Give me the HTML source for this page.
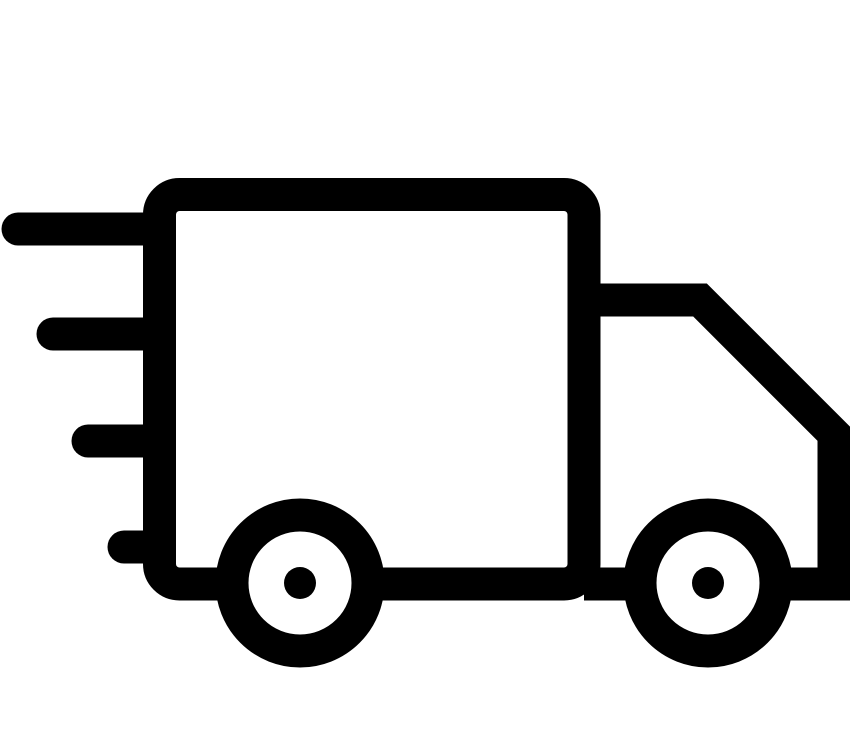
<!DOCTYPE html>
<html><head><style>html,body{margin:0;padding:0;background:#fff}svg{display:block}</style></head>
<body>
<svg width="850" height="748" viewBox="0 0 850 748" xmlns="http://www.w3.org/2000/svg">
<g fill="none" stroke="#000" stroke-width="33">
<rect x="159.5" y="194.5" width="424.5" height="389.5" rx="20"/>
<line x1="18" y1="229" x2="152" y2="229" stroke-linecap="round"/>
<line x1="53" y1="334" x2="152" y2="334" stroke-linecap="round"/>
<line x1="88" y1="441" x2="152" y2="441" stroke-linecap="round"/>
<line x1="124" y1="547" x2="152" y2="547" stroke-linecap="round"/>
<polyline points="584,300 700,300 834,434 834,584 584,584" stroke-linejoin="miter"/>
<circle cx="300" cy="583" r="68" fill="#fff"/>
<circle cx="708" cy="583" r="68" fill="#fff"/>
</g>
<circle cx="300" cy="583" r="16" fill="#000"/>
<circle cx="708" cy="583" r="16" fill="#000"/>
</svg>
</body></html>
